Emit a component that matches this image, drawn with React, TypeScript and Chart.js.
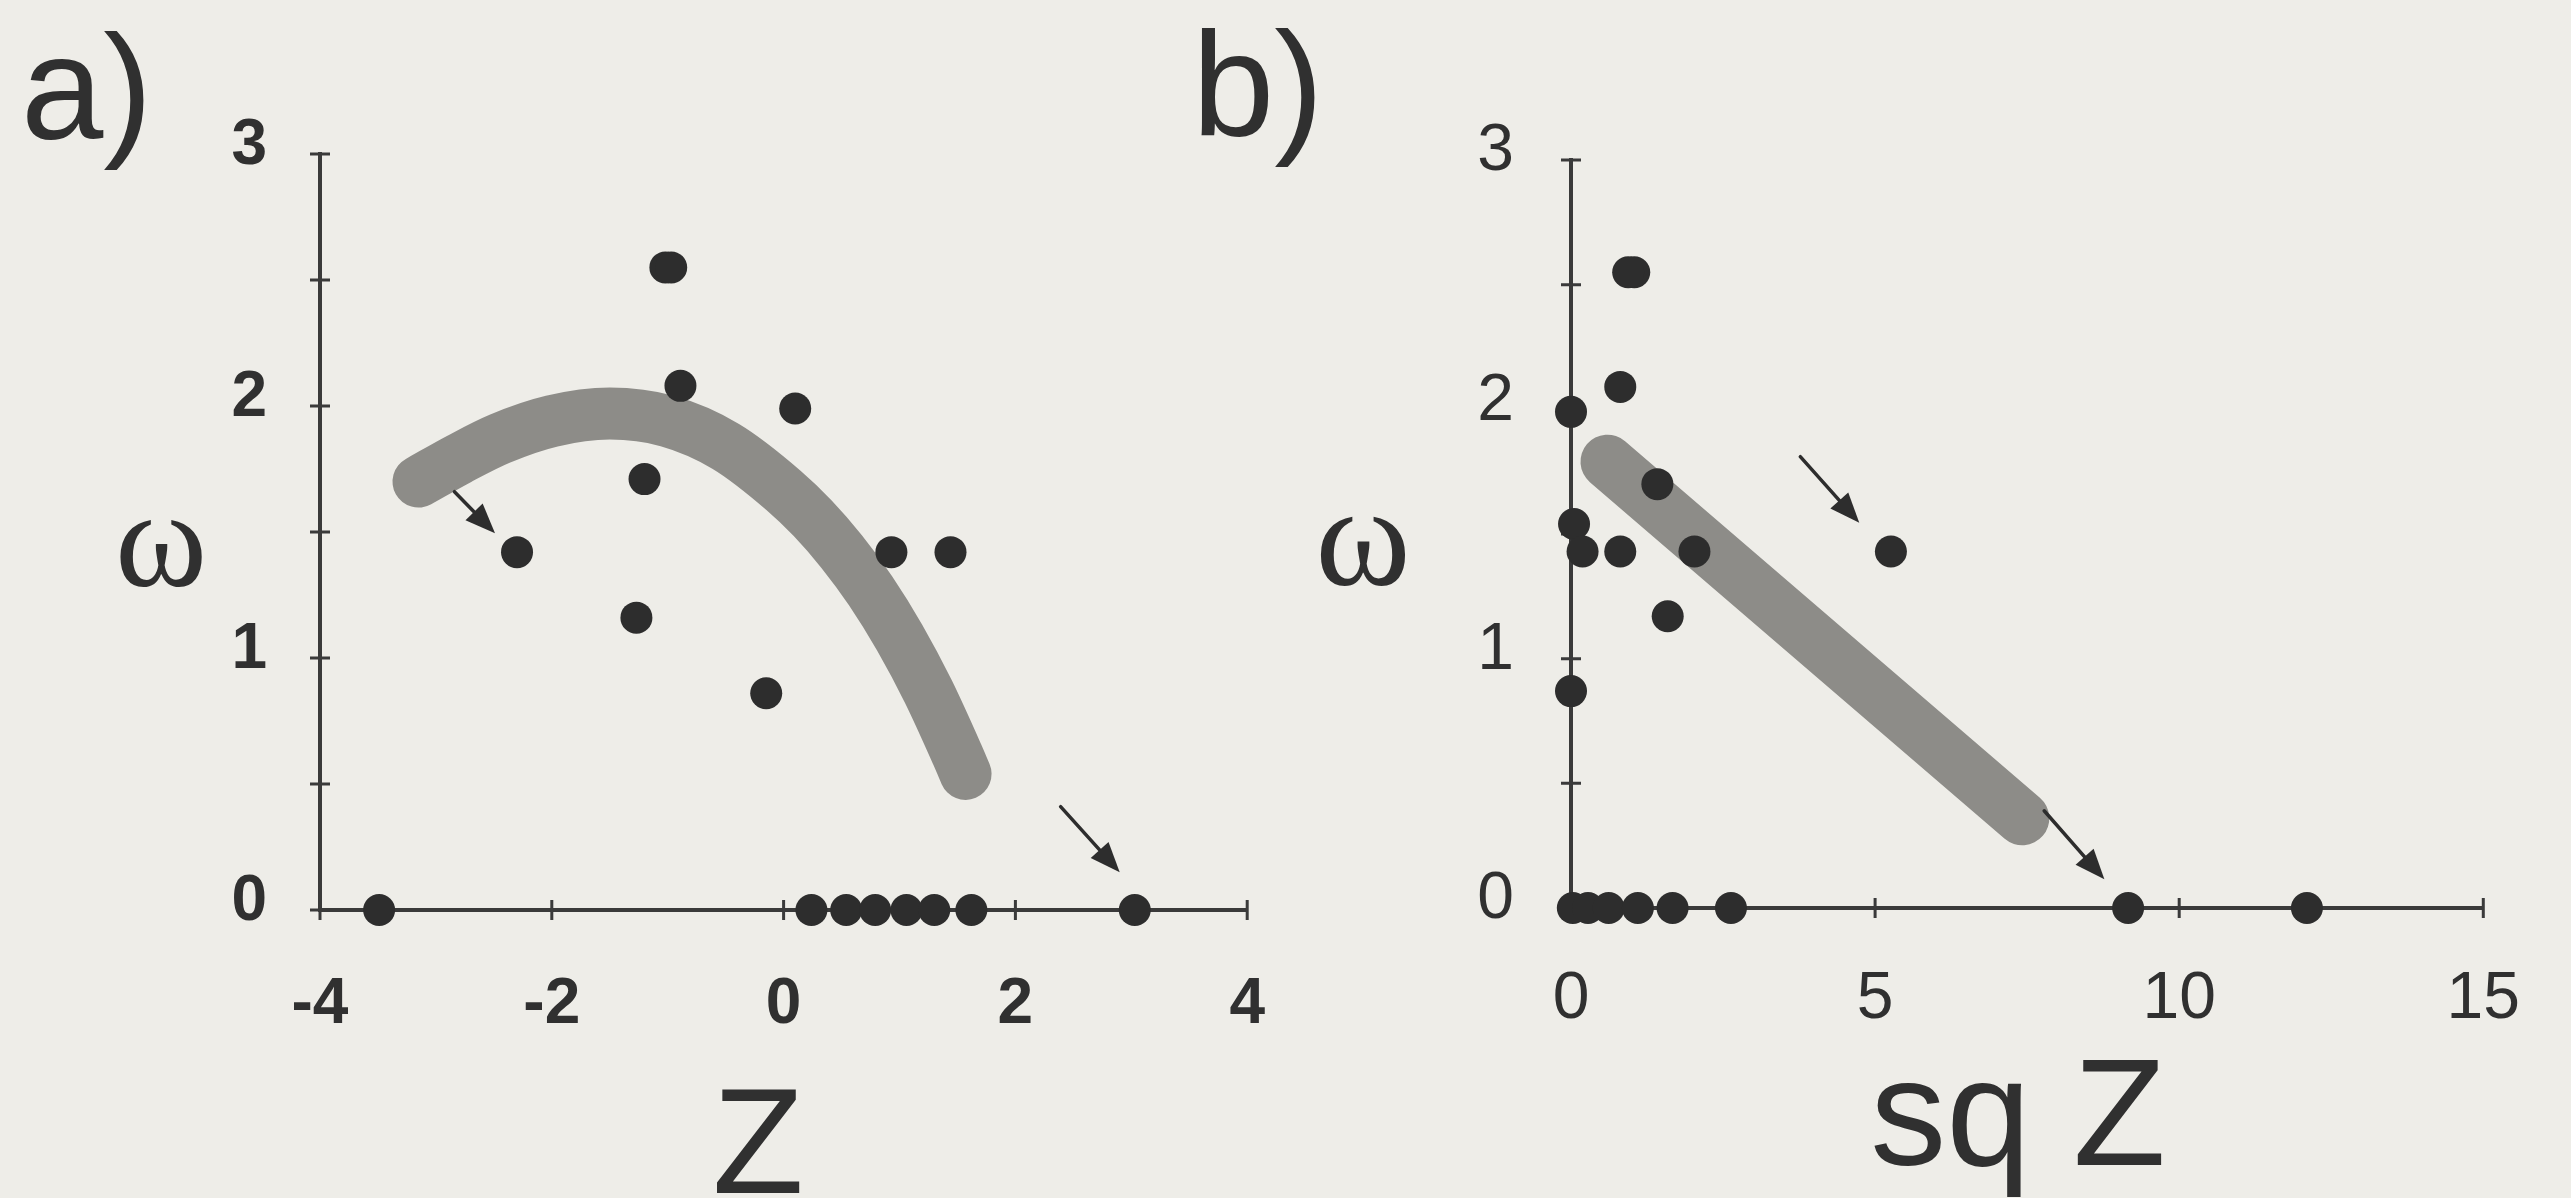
import React, { useEffect, useRef } from 'react';
import { Chart, registerables } from 'chart.js';

Chart.register(...registerables);

const PAGE_BG = '#eeede8';
const INK = '#2d2d2d';
const AXIS = '#3a3a3a';
const BAND = '#8d8c88';

type Pt = [number, number];

// ---- a) ω against Z ----
const zDotsA = [-1.02, -0.97, -0.89, 0.1, -1.2, -2.3, 0.93, 1.44, -1.27, -0.15, -3.49, 0.24, 0.54, 0.79, 1.06, 1.3, 1.62, 3.03];
const omegaDotsA = [2.55, 2.55, 2.08, 1.99, 1.71, 1.42, 1.42, 1.42, 1.16, 0.86, 0, 0, 0, 0, 0, 0, 0, 0];
const zBandA = [-3.15, -2.8, -2.45, -2.0, -1.5, -1.0, -0.5, 0.0, 0.25, 0.5, 0.75, 1.0, 1.25, 1.5, 1.57];
const omegaBandA = [1.7, 1.79, 1.87, 1.94, 1.97, 1.94, 1.84, 1.665, 1.555, 1.423, 1.267, 1.082, 0.866, 0.615, 0.54];
const arrowTailsA: Pt[] = [[-2.84, 1.66], [2.39, 0.41]];
const arrowHeadsA: Pt[] = [[-2.49, 1.495], [2.9, 0.15]];
const xTicksA = [-4, -2, 0, 2, 4];
const xTickLabelsA = ['-4', '-2', '0', '2', '4'];

// ---- b) ω against sq Z ----
const sqZDotsB = [1.04, 0.94, 0.81, 0.0, 1.42, 0.05, 0.19, 0.81, 2.03, 5.26, 1.59, 0.0, 0.03, 0.28, 0.62, 1.1, 1.67, 2.63, 9.16, 12.1];
const omegaDotsB = [2.55, 2.55, 2.09, 1.99, 1.7, 1.54, 1.43, 1.43, 1.43, 1.43, 1.17, 0.87, 0, 0, 0, 0, 0, 0, 0, 0];
const sqZBandB = [0.6, 7.42];
const omegaBandB = [1.79, 0.36];
const arrowTailsB: Pt[] = [[3.77, 1.81], [7.78, 0.39]];
const arrowHeadsB: Pt[] = [[4.74, 1.545], [8.77, 0.115]];
const xTicksB = [0, 5, 10, 15];
const xTickLabelsB = ['0', '5', '10', '15'];

// shared ω axis
const yTicks = [0, 0.5, 1, 1.5, 2, 2.5, 3];
const yTickLabels = ['0', '', '1', '', '2', '', '3'];

interface TextMark {
  text: string;
  font: string;
  x: number;
  y: number;
  align: CanvasTextAlign;
}

interface PanelSpec {
  left: number;
  width: number;
  xMin: number;
  xMax: number;
  xTicks: number[];
  xTickLabels: string[];
  xs: number[];
  ys: number[];
  bandX: number[];
  bandY: number[];
  bandWidth: number;
  tails: Pt[];
  heads: Pt[];
  tickWeight: 'bold' | 'normal';
  tickSize: number;
  yAxisWidth: number;
  xAxisHeight: number;
  padTop: number;
  padRight: number;
  yLabelPad: number;
  xLabelPad: number;
  texts: TextMark[];
}

const SANS = '"Liberation Sans", Arial, sans-serif';
const SERIF = '"Liberation Serif", "Times New Roman", serif';

const panelA: PanelSpec = {
  left: 0,
  width: 1320,
  xMin: -4,
  xMax: 4,
  xTicks: xTicksA,
  xTickLabels: xTickLabelsA,
  xs: zDotsA,
  ys: omegaDotsA,
  bandX: zBandA,
  bandY: omegaBandA,
  bandWidth: 52,
  tails: arrowTailsA,
  heads: arrowHeadsA,
  tickWeight: 'bold',
  tickSize: 64,
  yAxisWidth: 320,
  xAxisHeight: 288,
  padTop: 154,
  padRight: 52,
  yLabelPad: 45,
  xLabelPad: 55,
  texts: [
    { text: 'a)', font: `148px ${SANS}`, x: 21, y: 139, align: 'left' },
    { text: 'ω', font: `140px ${SERIF}`, x: 161, y: 586, align: 'center' },
    { text: 'Z', font: `150px ${SANS}`, x: 758, y: 1193, align: 'center' },
  ],
};

const panelB: PanelSpec = {
  left: 1150,
  width: 1421,
  xMin: 0,
  xMax: 15,
  xTicks: xTicksB,
  xTickLabels: xTickLabelsB,
  xs: sqZDotsB,
  ys: omegaDotsB,
  bandX: sqZBandB,
  bandY: omegaBandB,
  bandWidth: 54,
  tails: arrowTailsB,
  heads: arrowHeadsB,
  tickWeight: 'normal',
  tickSize: 66,
  yAxisWidth: 421,
  xAxisHeight: 290,
  padTop: 160,
  padRight: 54,
  yLabelPad: 49,
  xLabelPad: 51,
  texts: [
    { text: 'b)', font: `148px ${SANS}`, x: 1192, y: 136, align: 'left' },
    { text: 'ω', font: `145px ${SERIF}`, x: 1363, y: 585, align: 'center' },
    { text: 'sq Z', font: `152px ${SANS}`, x: 2018, y: 1165, align: 'center' },
  ],
};

function drawArrow(ctx: CanvasRenderingContext2D, x1: number, y1: number, x2: number, y2: number) {
  const ang = Math.atan2(y2 - y1, x2 - x1);
  const headLen = 30;
  const headHalf = 12;
  const cos = Math.cos(ang);
  const sin = Math.sin(ang);
  const bx = x2 - headLen * cos;
  const by = y2 - headLen * sin;
  ctx.beginPath();
  ctx.moveTo(x1, y1);
  ctx.lineTo(bx + 2 * cos, by + 2 * sin);
  ctx.stroke();
  ctx.beginPath();
  ctx.moveTo(x2, y2);
  ctx.lineTo(bx - headHalf * sin, by + headHalf * cos);
  ctx.lineTo(bx + headHalf * sin, by - headHalf * cos);
  ctx.closePath();
  ctx.fill();
}

function makeDecorations(spec: PanelSpec) {
  return {
    id: 'panelDecorations',
    // tick marks that cross the axis lines
    beforeDatasetsDraw(chart: any) {
      const { ctx, chartArea, scales } = chart;
      const half = 10;
      ctx.save();
      ctx.strokeStyle = AXIS;
      ctx.lineWidth = 3;
      ctx.beginPath();
      for (const t of scales.x.ticks) {
        const px = scales.x.getPixelForValue(t.value);
        ctx.moveTo(px, chartArea.bottom - half);
        ctx.lineTo(px, chartArea.bottom + half);
      }
      for (const t of scales.y.ticks) {
        const py = scales.y.getPixelForValue(t.value);
        ctx.moveTo(chartArea.left - half, py);
        ctx.lineTo(chartArea.left + half, py);
      }
      ctx.stroke();
      ctx.restore();
    },
    // pointer arrows, panel letter and axis titles
    afterDatasetsDraw(chart: any) {
      const { ctx, scales } = chart;
      ctx.save();
      ctx.strokeStyle = INK;
      ctx.fillStyle = INK;
      ctx.lineWidth = 3.5;
      ctx.lineCap = 'round';
      spec.tails.forEach((tail, i) => {
        const head = spec.heads[i];
        drawArrow(
          ctx,
          scales.x.getPixelForValue(tail[0]),
          scales.y.getPixelForValue(tail[1]),
          scales.x.getPixelForValue(head[0]),
          scales.y.getPixelForValue(head[1])
        );
      });
      ctx.fillStyle = '#303030';
      ctx.textBaseline = 'alphabetic';
      for (const t of spec.texts) {
        ctx.font = t.font;
        ctx.textAlign = t.align;
        ctx.fillText(t.text, t.x - spec.left, t.y);
      }
      ctx.restore();
    },
  };
}

function buildChart(canvas: HTMLCanvasElement, spec: PanelSpec) {
  const dots = spec.xs.map((x, i) => ({ x, y: spec.ys[i] }));
  const band = spec.bandX.map((x, i) => ({ x, y: spec.bandY[i] }));
  const tickFont = { family: SANS, size: spec.tickSize, weight: spec.tickWeight, lineHeight: 1 };

  return new Chart(canvas, {
    type: 'scatter',
    data: {
      datasets: [
        {
          type: 'scatter',
          data: dots,
          pointRadius: 16,
          pointHoverRadius: 16,
          pointBackgroundColor: INK,
          pointBorderWidth: 0,
          clip: false,
          order: 0,
        },
        {
          type: 'line',
          data: band,
          borderColor: BAND,
          borderWidth: spec.bandWidth,
          borderCapStyle: 'round',
          borderJoinStyle: 'round',
          cubicInterpolationMode: 'monotone',
          pointRadius: 0,
          pointHoverRadius: 0,
          fill: false,
          clip: false,
          order: 1,
        },
      ],
    } as any,
    options: {
      responsive: false,
      maintainAspectRatio: false,
      animation: false,
      devicePixelRatio: 1,
      events: [],
      layout: { padding: { left: 0, top: spec.padTop, right: spec.padRight, bottom: 0 } },
      plugins: {
        legend: { display: false },
        tooltip: { enabled: false },
        title: { display: false },
      },
      scales: {
        x: {
          type: 'linear',
          position: 'bottom',
          min: spec.xMin,
          max: spec.xMax,
          afterBuildTicks: (scale: any) => {
            scale.ticks = spec.xTicks.map((value) => ({ value }));
          },
          afterFit: (scale: any) => {
            scale.height = spec.xAxisHeight;
          },
          ticks: {
            autoSkip: false,
            maxRotation: 0,
            minRotation: 0,
            padding: spec.xLabelPad,
            color: '#303030',
            font: tickFont,
            callback: (_v: any, i: number) => spec.xTickLabels[i],
          },
          grid: { display: false },
          border: { display: true, color: AXIS, width: 4 },
        },
        y: {
          type: 'linear',
          position: 'left',
          min: 0,
          max: 3,
          afterBuildTicks: (scale: any) => {
            scale.ticks = yTicks.map((value) => ({ value }));
          },
          afterFit: (scale: any) => {
            scale.width = spec.yAxisWidth;
          },
          ticks: {
            autoSkip: false,
            padding: spec.yLabelPad,
            labelOffset: -8,
            color: '#303030',
            font: tickFont,
            callback: (_v: any, i: number) => yTickLabels[i],
          },
          grid: { display: false },
          border: { display: true, color: AXIS, width: 4 },
        },
      },
    } as any,
    plugins: [makeDecorations(spec)],
  });
}

function Panel({ spec }: { spec: PanelSpec }) {
  const ref = useRef<HTMLCanvasElement | null>(null);
  useEffect(() => {
    if (!ref.current) return;
    const chart = buildChart(ref.current, spec);
    return () => chart.destroy();
  }, [spec]);
  return (
    <canvas
      ref={ref}
      width={spec.width}
      height={1198}
      style={{ position: 'absolute', left: spec.left, top: 0, width: spec.width, height: 1198 }}
    />
  );
}

export default function App() {
  return (
    <div
      style={{
        position: 'fixed',
        left: 0,
        top: 0,
        width: 2571,
        height: 1198,
        background: PAGE_BG,
        overflow: 'hidden',
      }}
    >
      <Panel spec={panelA} />
      <Panel spec={panelB} />
    </div>
  );
}
